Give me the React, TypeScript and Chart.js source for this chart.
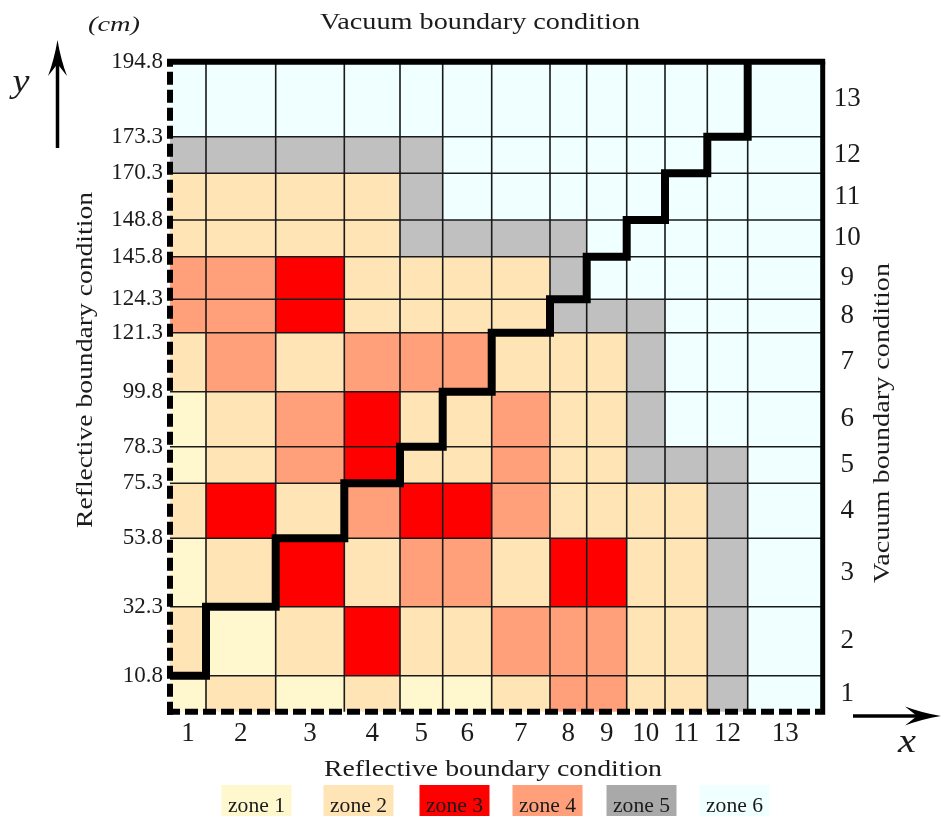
import React, { useEffect, useRef } from 'react';
import { Chart, registerables } from 'chart.js';

Chart.register(...registerables);

// ---- data ----
// column / row boundaries of the (schematic, not-to-scale) core map, in drawing units
const colEdges = [0, 36, 105.7, 174.3, 230, 272.7, 321.7, 380, 416.7, 456.7, 495, 537.3, 577.7, 652.7];
const rowEdges = [0, 36, 105, 173.4, 228.4, 265, 320, 379, 412.4, 455, 491.7, 538.4, 575, 650];
const colLabels = ['1', '2', '3', '4', '5', '6', '7', '8', '9', '10', '11', '12', '13'];
const rowLabels = ['1', '2', '3', '4', '5', '6', '7', '8', '9', '10', '11', '12', '13'];
// left-axis labels (cm) at rowEdges[1..13]
const yTickLabels = ['10.8', '32.3', '53.8', '75.3', '78.3', '99.8', '121.3', '124.3', '145.8', '148.8', '170.3', '173.3', '194.8'];
const zoneNames = ['zone 1', 'zone 2', 'zone 3', 'zone 4', 'zone 5', 'zone 6'];
// zone of every cell; rows listed from the top (row 13) down to row 1, columns 1..13
const zoneMap = [
  [6, 6, 6, 6, 6, 6, 6, 6, 6, 6, 6, 6, 6],
  [5, 5, 5, 5, 5, 6, 6, 6, 6, 6, 6, 6, 6],
  [2, 2, 2, 2, 5, 6, 6, 6, 6, 6, 6, 6, 6],
  [2, 2, 2, 2, 5, 5, 5, 5, 6, 6, 6, 6, 6],
  [4, 4, 3, 2, 2, 2, 2, 5, 6, 6, 6, 6, 6],
  [4, 4, 3, 2, 2, 2, 2, 5, 5, 5, 6, 6, 6],
  [2, 4, 2, 4, 4, 4, 2, 2, 2, 5, 6, 6, 6],
  [1, 2, 4, 3, 2, 2, 4, 2, 2, 5, 6, 6, 6],
  [1, 2, 4, 3, 2, 2, 4, 2, 2, 5, 5, 5, 6],
  [2, 3, 2, 4, 3, 3, 4, 2, 2, 2, 2, 5, 6],
  [1, 2, 3, 2, 4, 4, 2, 3, 3, 2, 2, 5, 6],
  [2, 1, 2, 3, 2, 2, 4, 4, 4, 2, 2, 5, 6],
  [1, 2, 1, 2, 1, 1, 2, 4, 4, 2, 2, 5, 6],
];

// ---- styles ----
const zoneColors = ['#FFF8CF', '#FFE4B5', '#FF0000', '#FFA07A', '#C0C0C0', '#F0FFFF'];
const legendColors = ['#FFF8CF', '#FFE4B5', '#FF0000', '#FFA07A', '#A9A9A9', '#F0FFFF'];
const FONT = "'Liberation Serif', 'Times New Roman', serif";
const TEXT = '#1b1b1b';
const W = 942;
const H = 816;
const AREA = { left: 170, top: 61.7, right: 822.7, bottom: 711.7 };

const colCenters = colEdges.slice(0, -1).map((v, i) => (v + colEdges[i + 1]) / 2);
const rowCenters = rowEdges.slice(0, -1).map((v, i) => (v + rowEdges[i + 1]) / 2);

// staircase core/reflector boundary, following the grid corners
const stairPoints: { x: number; y: number }[] = [];
for (let i = 0; i < colEdges.length - 2; i++) {
  stairPoints.push({ x: colEdges[i], y: rowEdges[i + 1] });
  stairPoints.push({ x: colEdges[i + 1], y: rowEdges[i + 1] });
}
stairPoints.push({ x: colEdges[colEdges.length - 2], y: rowEdges[rowEdges.length - 1] });

function fitText(ctx: CanvasRenderingContext2D, text: string, x: number, y: number, font: string, width: number, rot = 0) {
  ctx.save();
  ctx.font = font;
  const w = ctx.measureText(text).width;
  ctx.translate(x, y);
  if (rot) ctx.rotate(rot);
  ctx.scale(width / w, 1);
  ctx.textAlign = 'center';
  ctx.textBaseline = 'alphabetic';
  ctx.fillStyle = TEXT;
  ctx.fillText(text, 0, 0);
  ctx.restore();
}

function arrow(ctx: CanvasRenderingContext2D, x0: number, y0: number, x1: number, y1: number) {
  const len = Math.hypot(x1 - x0, y1 - y0);
  const dx = (x1 - x0) / len;
  const dy = (y1 - y0) / len;
  const nx = -dy;
  const ny = dx;
  const L = 36;
  const hw = 9.5;
  const notch = 12;
  ctx.save();
  ctx.strokeStyle = '#000';
  ctx.lineWidth = 3.5;
  ctx.beginPath();
  ctx.moveTo(x0, y0);
  ctx.lineTo(x1 - dx * (L - notch), y1 - dy * (L - notch));
  ctx.stroke();
  ctx.fillStyle = '#000';
  ctx.beginPath();
  ctx.moveTo(x1, y1);
  ctx.quadraticCurveTo(x1 - dx * L * 0.55 + nx * hw * 0.35, y1 - dy * L * 0.55 + ny * hw * 0.35, x1 - dx * L + nx * hw, y1 - dy * L + ny * hw);
  ctx.lineTo(x1 - dx * (L - notch), y1 - dy * (L - notch));
  ctx.lineTo(x1 - dx * L - nx * hw, y1 - dy * L - ny * hw);
  ctx.quadraticCurveTo(x1 - dx * L * 0.55 - nx * hw * 0.35, y1 - dy * L * 0.55 - ny * hw * 0.35, x1, y1);
  ctx.closePath();
  ctx.fill();
  ctx.restore();
}

const mapPlugin = {
  id: 'coreMap',
  beforeDatasetsDraw(chart: any) {
    const { ctx, scales } = chart;
    const x = scales.x;
    const y = scales.y;
    ctx.save();
    const nRows = zoneMap.length;
    zoneMap.forEach((row, i) => {
      const r = nRows - 1 - i;
      const yTop = y.getPixelForValue(rowEdges[r + 1]);
      const yBot = y.getPixelForValue(rowEdges[r]);
      row.forEach((zone, c) => {
        const xl = x.getPixelForValue(colEdges[c]);
        const xr = x.getPixelForValue(colEdges[c + 1]);
        ctx.fillStyle = zoneColors[zone - 1];
        ctx.fillRect(xl, yTop, xr - xl, yBot - yTop);
      });
    });
    ctx.strokeStyle = '#1a1a1a';
    ctx.lineWidth = 1.6;
    const top = y.getPixelForValue(rowEdges[rowEdges.length - 1]);
    const bot = y.getPixelForValue(rowEdges[0]);
    const left = x.getPixelForValue(colEdges[0]);
    const right = x.getPixelForValue(colEdges[colEdges.length - 1]);
    ctx.beginPath();
    colEdges.slice(1, -1).forEach((v) => {
      const px = x.getPixelForValue(v);
      ctx.moveTo(px, top);
      ctx.lineTo(px, bot);
    });
    rowEdges.slice(1, -1).forEach((v) => {
      const py = y.getPixelForValue(v);
      ctx.moveTo(left, py);
      ctx.lineTo(right, py);
    });
    ctx.stroke();
    ctx.restore();
  },
  afterDatasetsDraw(chart: any) {
    const { ctx, chartArea } = chart;
    const { left, right, top, bottom } = chartArea;
    ctx.save();
    ctx.strokeStyle = '#000';
    ctx.lineCap = 'butt';
    // solid top & right (vacuum)
    ctx.lineWidth = 6;
    ctx.beginPath();
    ctx.moveTo(left - 3, top);
    ctx.lineTo(right + 2.5, top);
    ctx.stroke();
    ctx.lineWidth = 5;
    ctx.beginPath();
    ctx.moveTo(right, top);
    ctx.lineTo(right, bottom + 3);
    ctx.stroke();
    // dashed left & bottom (reflective)
    ctx.lineWidth = 6;
    ctx.setLineDash([13, 5]);
    ctx.beginPath();
    ctx.moveTo(left, bottom + 3);
    ctx.lineTo(left, top);
    ctx.stroke();
    ctx.beginPath();
    ctx.moveTo(left - 3, bottom);
    ctx.lineTo(right - 2, bottom);
    ctx.stroke();
    ctx.restore();
  },
  afterDraw(chart: any) {
    const { ctx } = chart;
    ctx.save();
    fitText(ctx, 'Vacuum boundary condition', 480, 28.5, `23px ${FONT}`, 320);
    fitText(ctx, 'Reflective boundary condition', 493, 776, `23px ${FONT}`, 338);
    fitText(ctx, 'Reflective boundary condition', 92, 360, `23px ${FONT}`, 336, -Math.PI / 2);
    fitText(ctx, 'Vacuum boundary condition', 889, 423, `23px ${FONT}`, 320, -Math.PI / 2);
    fitText(ctx, '(cm)', 114, 31, `italic 22px ${FONT}`, 52);
    fitText(ctx, 'y', 21, 92, `italic 34px ${FONT}`, 17);
    fitText(ctx, 'x', 907, 752, `italic 34px ${FONT}`, 18);
    arrow(ctx, 57.5, 148, 57.5, 40);
    arrow(ctx, 853, 716, 941, 716);
    // legend
    const centers = [256.5, 358.5, 454.5, 547.5, 641.5, 734.5];
    zoneNames.forEach((name, i) => {
      const cx = centers[i];
      ctx.fillStyle = legendColors[i];
      ctx.fillRect(cx - 35, 785, 70, 31);
      fitText(ctx, name, cx, 812, `21px ${FONT}`, 57);
    });
    ctx.restore();
  },
};

export default function App() {
  const ref = useRef<HTMLCanvasElement>(null);
  useEffect(() => {
    const canvas = ref.current;
    if (!canvas) return;
    const tickFont = { family: FONT, size: 27 };
    const chart = new Chart(canvas, {
      type: 'scatter',
      data: {
        datasets: [
          {
            data: stairPoints,
            showLine: true,
            borderColor: '#000',
            borderWidth: 8,
            borderJoinStyle: 'miter',
            borderCapStyle: 'butt',
            pointRadius: 0,
            pointHoverRadius: 0,
            fill: false,
            tension: 0,
            xAxisID: 'x',
            yAxisID: 'y',
          } as any,
        ],
      },
      options: {
        responsive: false,
        animation: false,
        devicePixelRatio: 1,
        events: [],
        layout: { padding: { left: 0, right: 0, top: AREA.top, bottom: 0 }, autoPadding: false } as any,
        plugins: { legend: { display: false }, tooltip: { enabled: false }, title: { display: false } },
        scales: {
          x: {
            type: 'linear',
            position: 'bottom',
            min: colEdges[0],
            max: colEdges[colEdges.length - 1],
            afterBuildTicks: (s: any) => {
              s.ticks = colCenters.map((v) => ({ value: v }));
            },
            afterFit: (s: any) => {
              s.height = H - AREA.bottom;
            },
            ticks: {
              autoSkip: false,
              maxRotation: 0,
              minRotation: 0,
              padding: 6,
              color: TEXT,
              font: tickFont,
              callback: (_v: any, i: number) => colLabels[i],
            },
            grid: { display: false, drawTicks: false },
            border: { display: false },
          },
          y: {
            type: 'linear',
            position: 'left',
            min: rowEdges[0],
            max: rowEdges[rowEdges.length - 1],
            afterBuildTicks: (s: any) => {
              s.ticks = rowEdges.slice(1).map((v) => ({ value: v }));
            },
            afterFit: (s: any) => {
              s.width = AREA.left;
            },
            ticks: {
              autoSkip: false,
              padding: 7,
              color: TEXT,
              font: { family: FONT, size: 23 },
              callback: (_v: any, i: number) => yTickLabels[i],
            },
            grid: { display: false, drawTicks: false },
            border: { display: false },
          },
          y2: {
            type: 'linear',
            position: 'right',
            min: rowEdges[0],
            max: rowEdges[rowEdges.length - 1],
            afterBuildTicks: (s: any) => {
              s.ticks = rowCenters.map((v) => ({ value: v }));
            },
            afterFit: (s: any) => {
              s.width = W - AREA.right;
            },
            ticks: {
              autoSkip: false,
              padding: 11,
              crossAlign: 'center',
              color: TEXT,
              font: tickFont,
              callback: (_v: any, i: number) => rowLabels[i],
            },
            grid: { display: false, drawTicks: false },
            border: { display: false },
          },
        },
      } as any,
      plugins: [mapPlugin],
    });
    return () => chart.destroy();
  }, []);
  return (
    <div style={{ position: 'fixed', left: 0, top: 0, width: W, height: H, background: '#fff' }}>
      <canvas ref={ref} width={W} height={H} style={{ display: 'block', width: W, height: H }} />
    </div>
  );
}
